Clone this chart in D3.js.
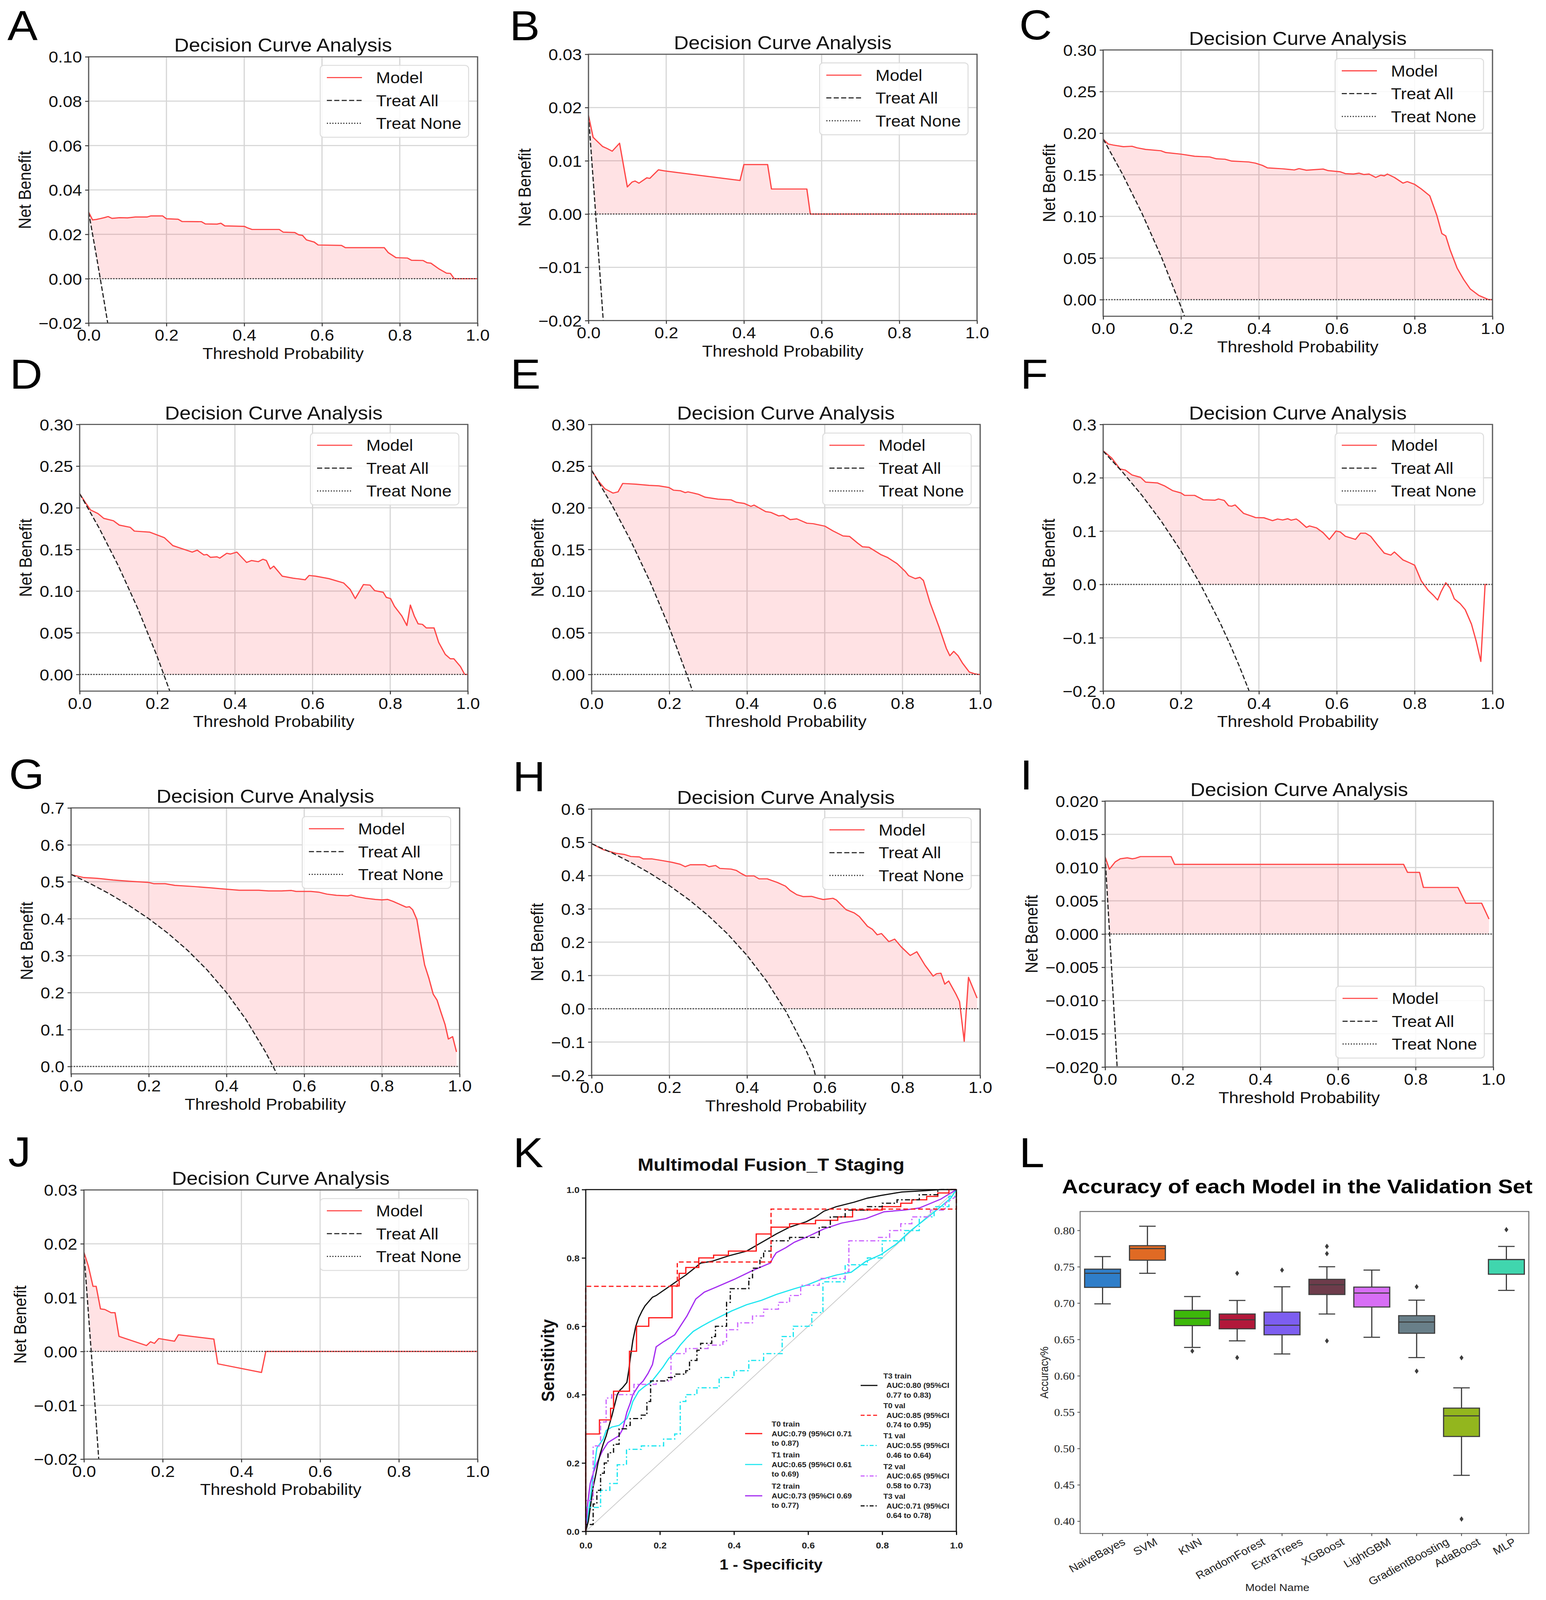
<!DOCTYPE html>
<html><head><meta charset="utf-8">
<script src="https://cdn.jsdelivr.net/npm/d3@7"></script>
<style>html,body{margin:0;padding:0;background:#fff;overflow:hidden;width:100%;height:100%}svg{display:block}</style>
</head><body>
<svg id="c" viewBox="0 0 3959 4452" preserveAspectRatio="none" style="width:100vw;height:100vh"></svg>
<script>
// ---------------- DATA ----------------
const dcaXTicks = [0, 0.2, 0.4, 0.6, 0.8, 1.0];
const treatNone = [[0, 0], [1, 0]];

const yticksA = [-0.02, 0, 0.02, 0.04, 0.06, 0.08, 0.10];
const yticksB = [-0.02, -0.01, 0, 0.01, 0.02, 0.03];
const yticksC = [0, 0.05, 0.10, 0.15, 0.20, 0.25, 0.30];
const yticksF = [-0.2, -0.1, 0, 0.1, 0.2, 0.3];
const yticksG = [0, 0.1, 0.2, 0.3, 0.4, 0.5, 0.6, 0.7];
const yticksH = [-0.2, -0.1, 0, 0.1, 0.2, 0.3, 0.4, 0.5, 0.6];
const yticksI = [-0.020, -0.015, -0.010, -0.005, 0, 0.005, 0.010, 0.015, 0.020];
const yticksJ = [-0.02, -0.01, 0, 0.01, 0.02, 0.03];

const modelA = [[0,0.030],[0.01,0.0265],[0.02,0.0267],[0.04,0.0275],[0.05,0.0280],[0.06,0.0272],[0.08,0.0275],[0.1,0.0274],[0.12,0.0278],[0.15,0.0278],[0.16,0.0283],[0.19,0.0283],[0.2,0.0270],[0.23,0.0268],[0.24,0.0258],[0.29,0.0257],[0.3,0.0247],[0.33,0.0246],[0.34,0.0250],[0.35,0.0238],[0.4,0.0236],[0.41,0.0228],[0.42,0.0222],[0.49,0.0222],[0.5,0.0210],[0.53,0.0208],[0.54,0.0198],[0.55,0.0195],[0.56,0.0175],[0.58,0.0165],[0.59,0.0152],[0.65,0.0150],[0.66,0.0140],[0.76,0.0140],[0.77,0.0118],[0.79,0.0095],[0.82,0.0093],[0.83,0.0083],[0.86,0.0082],[0.87,0.0072],[0.88,0.0070],[0.9,0.0045],[0.92,0.0025],[0.93,0.0024],[0.94,0.0],[1.0,0.0]];
const allA = [[0,0.030],[0.02,0.0102],[0.04,-0.0104],[0.05,-0.021]];

const modelB = [[0,0.0185],[0.012,0.0144],[0.036,0.0127],[0.048,0.0123],[0.061,0.0118],[0.08,0.0133],[0.1,0.0051],[0.112,0.0060],[0.12,0.0062],[0.13,0.0058],[0.15,0.0068],[0.158,0.0067],[0.18,0.0083],[0.196,0.0081],[0.39,0.0063],[0.40,0.0093],[0.461,0.0093],[0.471,0.0047],[0.562,0.0047],[0.571,0],[1,0]];
const allB = [[0,0.0185],[0.02,-0.0015],[0.038,-0.0200]];

const modelC = [[0,0.1927],[0.013,0.187],[0.026,0.1857],[0.052,0.1838],[0.074,0.1843],[0.087,0.1824],[0.109,0.1805],[0.148,0.1789],[0.161,0.1767],[0.2,0.1748],[0.235,0.1723],[0.274,0.1714],[0.291,0.1692],[0.313,0.1687],[0.33,0.1665],[0.374,0.1654],[0.391,0.164],[0.409,0.1613],[0.422,0.1583],[0.461,0.1572],[0.491,0.1558],[0.503,0.1574],[0.522,0.1555],[0.565,0.1569],[0.578,0.155],[0.609,0.1536],[0.622,0.1514],[0.643,0.1509],[0.657,0.152],[0.67,0.1503],[0.683,0.1509],[0.7,0.1468],[0.713,0.1495],[0.722,0.1487],[0.73,0.1509],[0.748,0.1468],[0.77,0.14],[0.781,0.1418],[0.8,0.1385],[0.817,0.133],[0.839,0.1247],[0.857,0.1013],[0.87,0.0793],[0.88,0.0765],[0.891,0.06],[0.909,0.038],[0.926,0.0242],[0.943,0.0127],[0.965,0.005],[0.99,0],[1,0]];
const allC = [[0,0.193],[0.05,0.1505],[0.1,0.1033],[0.15,0.0506],[0.2,-0.0088],[0.21,-0.0215]];

const modelD = [[0,0.2168],[0.015,0.2061],[0.028,0.1974],[0.047,0.1931],[0.062,0.1873],[0.087,0.1844],[0.102,0.1792],[0.13,0.1766],[0.141,0.172],[0.18,0.1708],[0.202,0.167],[0.218,0.1642],[0.24,0.1546],[0.257,0.152],[0.29,0.1468],[0.303,0.1491],[0.32,0.1434],[0.328,0.1439],[0.337,0.1405],[0.354,0.1411],[0.361,0.1396],[0.379,0.1454],[0.388,0.1445],[0.405,0.1468],[0.43,0.1344],[0.443,0.1367],[0.46,0.1353],[0.472,0.1382],[0.481,0.1367],[0.491,0.1266],[0.5,0.13],[0.522,0.1179],[0.549,0.1156],[0.581,0.1136],[0.591,0.1188],[0.608,0.1179],[0.642,0.115],[0.68,0.1098],[0.697,0.102],[0.71,0.091],[0.731,0.1078],[0.748,0.1072],[0.76,0.1006],[0.782,0.0986],[0.79,0.0925],[0.801,0.091],[0.811,0.0818],[0.83,0.0702],[0.843,0.0587],[0.852,0.0832],[0.862,0.0702],[0.872,0.0607],[0.883,0.0601],[0.893,0.0558],[0.913,0.0558],[0.925,0.0384],[0.942,0.024],[0.955,0.0188],[0.964,0.0188],[0.981,0.0095],[0.992,0],[1,0]];
const allD = [[0,0.217],[0.05,0.1758],[0.1,0.130],[0.15,0.0788],[0.2,0.0212],[0.235,-0.0235]];

const modelE = [[0,0.245],[0.017,0.2324],[0.034,0.2228],[0.055,0.2176],[0.068,0.2191],[0.08,0.2292],[0.114,0.2283],[0.148,0.2269],[0.173,0.2263],[0.199,0.2243],[0.211,0.2211],[0.228,0.2205],[0.241,0.2182],[0.248,0.2191],[0.275,0.2162],[0.292,0.2127],[0.325,0.2104],[0.359,0.2095],[0.372,0.2066],[0.393,0.2052],[0.41,0.2017],[0.418,0.2032],[0.448,0.1954],[0.461,0.1945],[0.482,0.1902],[0.493,0.1908],[0.511,0.1858],[0.528,0.1867],[0.554,0.1815],[0.57,0.1809],[0.6,0.178],[0.621,0.1723],[0.647,0.1662],[0.664,0.1656],[0.685,0.1575],[0.697,0.1532],[0.714,0.1526],[0.744,0.1439],[0.761,0.1405],[0.786,0.133],[0.807,0.1237],[0.816,0.1185],[0.833,0.115],[0.845,0.1165],[0.854,0.1127],[0.871,0.0861],[0.894,0.0572],[0.913,0.0312],[0.922,0.0225],[0.932,0.0277],[0.943,0.0225],[0.955,0.0133],[0.972,0.0029],[0.985,0.0009],[0.995,0],[1,0]];
const allE = [[0,0.245],[0.05,0.2053],[0.1,0.1611],[0.15,0.1118],[0.2,0.0562],[0.25,-0.0067],[0.263,-0.0245]];

const modelF = [[0,0.2505],[0.022,0.237],[0.043,0.2166],[0.057,0.2144],[0.074,0.2053],[0.096,0.2008],[0.109,0.1918],[0.139,0.1904],[0.157,0.185],[0.178,0.176],[0.2,0.1715],[0.209,0.167],[0.235,0.167],[0.257,0.1588],[0.287,0.1579],[0.296,0.1602],[0.311,0.1575],[0.322,0.1476],[0.33,0.1467],[0.339,0.149],[0.361,0.1331],[0.383,0.1277],[0.391,0.1254],[0.413,0.125],[0.435,0.1196],[0.448,0.1227],[0.461,0.1209],[0.474,0.1232],[0.483,0.1205],[0.496,0.1227],[0.504,0.1187],[0.522,0.107],[0.53,0.1097],[0.548,0.106],[0.565,0.097],[0.581,0.0844],[0.598,0.1002],[0.609,0.0984],[0.622,0.0903],[0.648,0.0844],[0.661,0.0961],[0.674,0.0961],[0.687,0.0903],[0.704,0.0745],[0.722,0.0587],[0.739,0.055],[0.748,0.0609],[0.77,0.046],[0.787,0.0406],[0.8,0.0361],[0.817,0.0068],[0.835,-0.0113],[0.848,-0.0203],[0.859,-0.0293],[0.868,-0.0135],[0.88,0.0032],[0.891,-0.0068],[0.902,-0.0271],[0.917,-0.0361],[0.93,-0.0474],[0.946,-0.0745],[0.958,-0.106],[0.97,-0.1444],[0.981,0],[0.987,0]];
const allF = [[0,0.25],[0.05,0.2105],[0.1,0.1667],[0.15,0.1176],[0.2,0.0625],[0.25,0],[0.3,-0.0714],[0.325,-0.111],[0.35,-0.1538],[0.375,-0.2]];

const modelG = [[0,0.5192],[0.033,0.5114],[0.067,0.5094],[0.108,0.5048],[0.15,0.5015],[0.2,0.4982],[0.2125,0.4949],[0.242,0.4949],[0.267,0.4903],[0.317,0.487],[0.358,0.4837],[0.392,0.4805],[0.433,0.4772],[0.483,0.4772],[0.508,0.4752],[0.542,0.4752],[0.567,0.4765],[0.579,0.4739],[0.617,0.4739],[0.6375,0.4719],[0.658,0.4667],[0.683,0.4634],[0.7125,0.4621],[0.721,0.464],[0.733,0.4601],[0.758,0.4555],[0.783,0.4522],[0.8,0.4509],[0.815,0.4522],[0.829,0.4469],[0.85,0.4371],[0.8625,0.4312],[0.871,0.4325],[0.879,0.4246],[0.89,0.3977],[0.9,0.3339],[0.91,0.2747],[0.921,0.2386],[0.932,0.1959],[0.942,0.1794],[0.952,0.1466],[0.9625,0.1137],[0.971,0.0743],[0.982,0.0808],[0.992,0.0394]];
const allG = [[0,0.52],[0.05,0.4947],[0.1,0.4667],[0.15,0.4353],[0.2,0.40],[0.25,0.36],[0.3,0.3143],[0.35,0.2615],[0.4,0.20],[0.45,0.1273],[0.5,0.04],[0.52,0.0],[0.53,-0.0213]];

const modelH = [[0,0.496],[0.03,0.4778],[0.063,0.4668],[0.085,0.4632],[0.101,0.4573],[0.123,0.4559],[0.133,0.45],[0.156,0.45],[0.182,0.4449],[0.207,0.4398],[0.228,0.434],[0.241,0.4267],[0.254,0.4325],[0.292,0.4325],[0.302,0.4267],[0.319,0.4303],[0.33,0.4215],[0.359,0.4194],[0.372,0.4157],[0.385,0.4062],[0.397,0.3989],[0.418,0.3989],[0.431,0.3901],[0.452,0.3901],[0.478,0.3792],[0.499,0.3682],[0.511,0.3551],[0.528,0.3426],[0.545,0.3368],[0.566,0.3375],[0.583,0.3317],[0.596,0.328],[0.611,0.3302],[0.621,0.3317],[0.63,0.3266],[0.655,0.2974],[0.676,0.2878],[0.689,0.2769],[0.71,0.2477],[0.723,0.2382],[0.735,0.2221],[0.746,0.2258],[0.765,0.2016],[0.78,0.209],[0.797,0.1856],[0.82,0.16],[0.837,0.171],[0.858,0.1308],[0.879,0.0979],[0.888,0.1052],[0.899,0.1067],[0.909,0.0738],[0.919,0.0833],[0.938,0.0431],[0.947,0.0212],[0.959,-0.0979],[0.97,0.0942],[0.992,0.0321]];
const allH = [[0,0.496],[0.05,0.4695],[0.1,0.44],[0.15,0.4071],[0.2,0.37],[0.25,0.328],[0.3,0.28],[0.35,0.2246],[0.4,0.16],[0.45,0.0836],[0.5,-0.008],[0.55,-0.12],[0.57,-0.172],[0.58,-0.22]];

const modelI = [[0,0.01158],[0.011,0.00975],[0.026,0.01085],[0.039,0.01132],[0.057,0.01147],[0.07,0.01132],[0.078,0.0114],[0.091,0.01165],[0.17,0.01165],[0.179,0.01048],[0.769,0.01048],[0.779,0.00928],[0.81,0.00928],[0.82,0.00701],[0.909,0.00701],[0.929,0.00464],[0.97,0.00464],[0.989,0.00226]];
const allI = [[0,0.0116],[0.01,0.0016],[0.02,-0.0086],[0.032,-0.0211]];

const modelJ = [[0,0.0184],[0.011,0.0159],[0.023,0.0121],[0.031,0.0121],[0.042,0.0079],[0.053,0.0078],[0.069,0.0072],[0.079,0.0072],[0.089,0.0028],[0.159,0.0011],[0.169,0.0018],[0.179,0.0015],[0.19,0.0024],[0.23,0.0019],[0.24,0.0031],[0.33,0.0023],[0.34,-0.0023],[0.451,-0.0039],[0.462,0],[1,0]];
const allJ = [[0,0.0184],[0.02,-0.0016],[0.038,-0.0205]];

const dcaLegendLabels = ['Model', 'Treat All', 'Treat None'];

// ROC (panel K)
const rocTicks = [0, 0.2, 0.4, 0.6, 0.8, 1.0];
const rocT0train = [[0,0],[0,0.13],[0,0.285],[0.037,0.285],[0.037,0.326],[0.067,0.326],[0.067,0.36],[0.075,0.36],[0.075,0.41],[0.118,0.41],[0.118,0.527],[0.137,0.527],[0.137,0.60],[0.17,0.60],[0.17,0.625],[0.233,0.625],[0.233,0.718],[0.252,0.718],[0.252,0.755],[0.27,0.755],[0.27,0.772],[0.305,0.772],[0.305,0.80],[0.345,0.80],[0.345,0.808],[0.385,0.808],[0.385,0.82],[0.46,0.82],[0.46,0.87],[0.5,0.87],[0.5,0.89],[0.55,0.89],[0.55,0.90],[0.62,0.90],[0.62,0.91],[0.68,0.91],[0.68,0.92],[0.72,0.92],[0.72,0.94],[0.8,0.94],[0.8,0.95],[0.85,0.95],[0.85,0.96],[0.88,0.96],[0.88,0.97],[0.92,0.97],[0.92,0.98],[0.95,0.98],[0.95,0.99],[0.98,0.99],[0.98,1.0],[1,1]];
const rocT1train = [[0,0],[0.008,0.06],[0.015,0.12],[0.022,0.18],[0.03,0.244],[0.047,0.27],[0.055,0.295],[0.07,0.305],[0.09,0.31],[0.111,0.33],[0.12,0.355],[0.127,0.38],[0.143,0.41],[0.16,0.425],[0.176,0.436],[0.19,0.455],[0.208,0.48],[0.224,0.506],[0.24,0.523],[0.255,0.545],[0.273,0.567],[0.29,0.585],[0.313,0.60],[0.333,0.612],[0.353,0.623],[0.394,0.645],[0.434,0.663],[0.474,0.676],[0.514,0.693],[0.563,0.71],[0.595,0.72],[0.635,0.737],[0.676,0.75],[0.716,0.758],[0.756,0.79],[0.797,0.81],[0.837,0.84],[0.877,0.88],[0.918,0.915],[0.958,0.95],[0.985,0.975],[1,1]];
const rocT2train = [[0,0],[0.005,0.08],[0.012,0.14],[0.02,0.17],[0.03,0.2],[0.045,0.235],[0.06,0.26],[0.075,0.27],[0.09,0.28],[0.1,0.3],[0.111,0.349],[0.12,0.375],[0.127,0.40],[0.143,0.427],[0.155,0.44],[0.168,0.462],[0.18,0.488],[0.19,0.54],[0.21,0.555],[0.24,0.575],[0.255,0.6],[0.273,0.63],[0.285,0.655],[0.297,0.68],[0.32,0.7],[0.353,0.715],[0.4,0.737],[0.45,0.763],[0.498,0.785],[0.505,0.8],[0.514,0.815],[0.54,0.83],[0.563,0.846],[0.6,0.863],[0.643,0.885],[0.69,0.902],[0.756,0.915],[0.805,0.935],[0.86,0.94],[0.9,0.946],[0.958,0.972],[1,1]];
const rocT3train = [[0,0],[0.007,0.03],[0.0145,0.087],[0.02,0.13],[0.027,0.166],[0.033,0.2],[0.039,0.227],[0.047,0.255],[0.055,0.279],[0.063,0.31],[0.071,0.34],[0.078,0.37],[0.085,0.40],[0.092,0.413],[0.099,0.42],[0.111,0.436],[0.116,0.47],[0.12,0.505],[0.127,0.558],[0.135,0.60],[0.143,0.625],[0.152,0.645],[0.16,0.66],[0.168,0.67],[0.18,0.685],[0.19,0.69],[0.21,0.705],[0.23,0.72],[0.25,0.735],[0.27,0.75],[0.29,0.767],[0.31,0.785],[0.34,0.79],[0.385,0.806],[0.434,0.82],[0.466,0.84],[0.49,0.855],[0.514,0.87],[0.55,0.89],[0.595,0.906],[0.62,0.92],[0.643,0.937],[0.676,0.95],[0.724,0.963],[0.76,0.975],[0.797,0.983],[0.853,0.993],[0.918,0.997],[0.96,1.0],[1,1]];
const rocT0val = [[0,0],[0,0.717],[0.247,0.717],[0.247,0.788],[0.5,0.788],[0.5,0.943],[1,0.943],[1,1]];
const rocT1val = [[0,0],[0,0.07],[0.04,0.07],[0.04,0.12],[0.065,0.12],[0.065,0.14],[0.085,0.14],[0.085,0.195],[0.11,0.195],[0.11,0.24],[0.15,0.24],[0.15,0.25],[0.21,0.25],[0.21,0.27],[0.24,0.27],[0.24,0.285],[0.255,0.285],[0.255,0.38],[0.27,0.38],[0.27,0.40],[0.3,0.40],[0.3,0.42],[0.36,0.42],[0.36,0.45],[0.4,0.45],[0.4,0.47],[0.44,0.47],[0.44,0.50],[0.48,0.50],[0.48,0.52],[0.53,0.52],[0.53,0.57],[0.56,0.57],[0.56,0.60],[0.61,0.60],[0.61,0.64],[0.64,0.64],[0.64,0.73],[0.7,0.73],[0.7,0.78],[0.76,0.78],[0.76,0.80],[0.8,0.80],[0.8,0.85],[0.86,0.85],[0.86,0.88],[0.9,0.88],[0.9,0.92],[0.94,0.92],[0.94,0.95],[0.98,0.95],[0.98,0.98],[1,0.98],[1,1]];
const rocT2val = [[0,0],[0,0.09],[0.02,0.09],[0.02,0.25],[0.04,0.25],[0.04,0.32],[0.055,0.32],[0.055,0.39],[0.07,0.39],[0.07,0.40],[0.13,0.40],[0.13,0.43],[0.19,0.43],[0.19,0.44],[0.23,0.44],[0.23,0.52],[0.27,0.52],[0.27,0.535],[0.33,0.535],[0.33,0.545],[0.37,0.545],[0.37,0.555],[0.38,0.555],[0.38,0.59],[0.41,0.59],[0.41,0.61],[0.45,0.61],[0.45,0.63],[0.48,0.63],[0.48,0.65],[0.52,0.65],[0.52,0.67],[0.55,0.67],[0.55,0.69],[0.58,0.69],[0.58,0.72],[0.63,0.72],[0.63,0.74],[0.7,0.74],[0.7,0.76],[0.71,0.76],[0.71,0.85],[0.79,0.85],[0.79,0.86],[0.82,0.86],[0.82,0.88],[0.85,0.88],[0.85,0.9],[0.88,0.9],[0.88,0.92],[0.93,0.92],[0.93,0.94],[0.97,0.94],[0.97,0.96],[1,0.98],[1,1]];
const rocT3val = [[0,0],[0,0.02],[0.02,0.02],[0.02,0.08],[0.03,0.08],[0.03,0.12],[0.04,0.12],[0.04,0.17],[0.05,0.17],[0.05,0.20],[0.06,0.20],[0.06,0.23],[0.075,0.23],[0.075,0.255],[0.09,0.255],[0.09,0.30],[0.11,0.30],[0.11,0.31],[0.12,0.31],[0.12,0.33],[0.15,0.33],[0.15,0.34],[0.165,0.34],[0.165,0.38],[0.175,0.38],[0.175,0.44],[0.22,0.44],[0.22,0.45],[0.24,0.45],[0.24,0.46],[0.27,0.46],[0.27,0.47],[0.28,0.47],[0.28,0.50],[0.30,0.50],[0.30,0.53],[0.31,0.53],[0.31,0.55],[0.34,0.55],[0.34,0.57],[0.35,0.57],[0.35,0.60],[0.38,0.60],[0.38,0.67],[0.39,0.67],[0.39,0.71],[0.44,0.71],[0.44,0.74],[0.45,0.74],[0.45,0.77],[0.47,0.77],[0.47,0.80],[0.48,0.80],[0.48,0.82],[0.5,0.82],[0.5,0.85],[0.55,0.85],[0.55,0.86],[0.63,0.86],[0.63,0.89],[0.66,0.89],[0.66,0.92],[0.7,0.92],[0.7,0.94],[0.76,0.94],[0.76,0.95],[0.8,0.95],[0.8,0.96],[0.84,0.96],[0.84,0.97],[0.9,0.97],[0.9,0.985],[0.95,0.985],[0.95,1.0],[1,1]];
const rocNames = ['T0 train', 'T1 train', 'T2 train', 'T3 train', 'T0 val', 'T1 val', 'T2 val', 'T3 val'];
const rocAUC1 = ['AUC:0.79 (95%CI 0.71', 'AUC:0.65 (95%CI 0.61', 'AUC:0.73 (95%CI 0.69', 'AUC:0.80 (95%CI', 'AUC:0.85 (95%CI', 'AUC:0.55 (95%CI', 'AUC:0.65 (95%CI', 'AUC:0.71 (95%CI'];
const rocAUC2 = ['to 0.87)', 'to 0.69)', 'to 0.77)', '0.77 to 0.83)', '0.74 to 0.95)', '0.46 to 0.64)', '0.58 to 0.73)', '0.64 to 0.78)'];

// Boxplot (panel L)
const models = ['NaiveBayes', 'SVM', 'KNN', 'RandomForest', 'ExtraTrees', 'XGBoost', 'LightGBM', 'GradientBoosting', 'AdaBoost', 'MLP'];
const boxLow  = [0.699, 0.741, 0.639, 0.648, 0.630, 0.685, 0.653, 0.625, 0.463, 0.7175];
const boxQ1   = [0.7216, 0.759, 0.669, 0.6646, 0.6564, 0.7118, 0.6946, 0.6585, 0.5165, 0.7397];
const boxMed  = [0.741, 0.775, 0.679, 0.677, 0.6695, 0.7253, 0.7138, 0.674, 0.5448, 0.7598];
const boxQ3   = [0.7467, 0.779, 0.690, 0.685, 0.6876, 0.7327, 0.722, 0.6827, 0.5555, 0.760];
const boxHigh = [0.764, 0.8057, 0.709, 0.7036, 0.7225, 0.750, 0.7454, 0.704, 0.5834, 0.778];
const boxOut  = [[], [], [0.634], [0.741, 0.625], [0.7454], [0.778, 0.768, 0.648], [], [0.7225, 0.6064], [0.6248, 0.4029], [0.801]];
const boxTicks = [0.40, 0.45, 0.50, 0.55, 0.60, 0.65, 0.70, 0.75, 0.80];

// ---------------- DRAWING ----------------
const SANS = "'Liberation Sans', Arial, Helvetica, sans-serif";
const SERIF = "'Liberation Serif', 'Times New Roman', serif";
const svg = d3.select('#c');
svg.append('rect').attr('width', 3959).attr('height', 4452).attr('fill', '#fff');

function interp(pts, xv) {
  if (xv < pts[0][0] - 1e-9 || xv > pts[pts.length - 1][0] + 1e-9) return null;
  for (let i = 1; i < pts.length; i++) {
    if (xv <= pts[i][0]) {
      const [xa, ya] = pts[i - 1], [xb, yb] = pts[i];
      if (xb === xa) return yb;
      return ya + (yb - ya) * (xv - xa) / (xb - xa);
    }
  }
  return pts[pts.length - 1][1];
}

function panelLetter(t, px, py) {
  svg.append('text').attr('x', px).attr('y', py).text(t)
    .attr('font-family', SANS).attr('font-size', 116).attr('fill', '#000');
}

const panels = [
  {label: 'A', rect: [227, 158, 1223, 899], ydom: [-0.02, 0.10], yticks: yticksA, fmt: '.2f', model: modelA, all: allA, legend: 'top', lp: [19, 112]},
  {label: 'B', rect: [1507, 151, 2502, 892], ydom: [-0.02, 0.03], yticks: yticksB, fmt: '.2f', model: modelB, all: allB, legend: 'top', lp: [1305, 112]},
  {label: 'C', rect: [2825, 139, 3822, 880], ydom: [-0.02, 0.30], yticks: yticksC, fmt: '.2f', model: modelC, all: allC, legend: 'top', lp: [2610, 110]},
  {label: 'D', rect: [204, 1181, 1198, 1923], ydom: [-0.02, 0.30], yticks: yticksC, fmt: '.2f', model: modelD, all: allD, legend: 'top', lp: [25, 1082]},
  {label: 'E', rect: [1515, 1181, 2510, 1923], ydom: [-0.02, 0.30], yticks: yticksC, fmt: '.2f', model: modelE, all: allE, legend: 'top', lp: [1307, 1082]},
  {label: 'F', rect: [2825, 1181, 3822, 1923], ydom: [-0.2, 0.3], yticks: yticksF, fmt: '.1f', model: modelF, all: allF, legend: 'top', lp: [2613, 1082]},
  {label: 'G', rect: [182, 2248, 1177, 2988], ydom: [-0.02, 0.7], yticks: yticksG, fmt: '.1f', model: modelG, all: allG, legend: 'top', lp: [23, 2195]},
  {label: 'H', rect: [1515, 2251, 2510, 2992], ydom: [-0.2, 0.6], yticks: yticksH, fmt: '.1f', model: modelH, all: allH, legend: 'top', lp: [1313, 2201]},
  {label: 'I', rect: [2830, 2229, 3824, 2969], ydom: [-0.02, 0.02], yticks: yticksI, fmt: '.3f', model: modelI, all: allI, legend: 'bottom', lp: [2612, 2197]},
  {label: 'J', rect: [215, 3311, 1223, 4060], ydom: [-0.02, 0.03], yticks: yticksJ, fmt: '.2f', model: modelJ, all: allJ, legend: 'top', lp: [21, 3245]},
];

function drawDCA(c) {
  const [X0, Y0, X1, Y1] = c.rect;
  const x = d3.scaleLinear([0, 1], [X0, X1]);
  const y = d3.scaleLinear(c.ydom, [Y1, Y0]);
  const g = svg.append('g');
  const cid = 'clip' + c.label;
  g.append('clipPath').attr('id', cid).append('rect')
    .attr('x', X0).attr('y', Y0).attr('width', X1 - X0).attr('height', Y1 - Y0);

  // grid
  g.append('g').selectAll('line').data(dcaXTicks).join('line')
    .attr('x1', d => x(d)).attr('x2', d => x(d)).attr('y1', Y0).attr('y2', Y1)
    .attr('stroke', '#d6d6d6').attr('stroke-width', 3);
  g.append('g').selectAll('line').data(c.yticks).join('line')
    .attr('x1', X0).attr('x2', X1).attr('y1', d => y(d)).attr('y2', d => y(d))
    .attr('stroke', '#d6d6d6').attr('stroke-width', 3);

  // fill between model and max(treat all, 0)
  const lastX = c.model[c.model.length - 1][0];
  let xs = c.model.map(d => d[0]).concat(c.all.map(d => d[0]));
  for (let v = 0; v <= lastX; v += 0.001) xs.push(v);
  xs = Array.from(new Set(xs.map(v => +v.toFixed(5)))).filter(v => v <= lastX).sort((a, b) => a - b);
  const fillPts = xs.map(xv => {
    const m = interp(c.model, xv);
    const a = interp(c.all, xv);
    const lo = a === null ? 0 : Math.max(a, 0);
    const hi = Math.max(m === null ? lo : m, lo);
    return [xv, lo, hi];
  });
  const cg = g.append('g').attr('clip-path', `url(#${cid})`);
  cg.append('path').datum(fillPts)
    .attr('d', d3.area().x(d => x(d[0])).y0(d => y(d[1])).y1(d => y(d[2])))
    .attr('fill', '#ff1f2f').attr('fill-opacity', 0.13);

  const line = d3.line().x(d => x(d[0])).y(d => y(d[1]));
  cg.append('path').datum(c.model).attr('d', line)
    .attr('fill', 'none').attr('stroke', '#ff4646').attr('stroke-width', 3.2).attr('stroke-linejoin', 'round');
  cg.append('path').datum(c.all).attr('d', line)
    .attr('fill', 'none').attr('stroke', '#222').attr('stroke-width', 3).attr('stroke-dasharray', '13,6');
  cg.append('path').datum(treatNone).attr('d', line)
    .attr('fill', 'none').attr('stroke', '#333').attr('stroke-width', 3).attr('stroke-dasharray', '3,4');

  // spines
  g.append('rect').attr('x', X0).attr('y', Y0).attr('width', X1 - X0).attr('height', Y1 - Y0)
    .attr('fill', 'none').attr('stroke', '#5a5a5a').attr('stroke-width', 3);

  // axes
  const ax = g.append('g').attr('transform', `translate(0,${Y1})`)
    .call(d3.axisBottom(x).tickValues(dcaXTicks).tickFormat(d3.format('.1f')).tickSize(9).tickPadding(9));
  const ay = g.append('g').attr('transform', `translate(${X0},0)`)
    .call(d3.axisLeft(y).tickValues(c.yticks).tickFormat(d3.format(c.fmt)).tickSize(9).tickPadding(8));
  [ax, ay].forEach(a => {
    a.select('.domain').remove();
    a.selectAll('line').attr('stroke', '#333').attr('stroke-width', 2.5);
    a.selectAll('text').attr('font-family', SANS).attr('font-size', 44).attr('fill', '#111');
  });
  ay.selectAll('text').attr('dy', '0.36em');

  // title and labels
  g.append('text').attr('x', (X0 + X1) / 2).attr('y', Y0 - 14).attr('text-anchor', 'middle')
    .attr('font-family', SANS).attr('font-size', 52).attr('fill', '#111').text('Decision Curve Analysis');
  g.append('text').attr('x', (X0 + X1) / 2).attr('y', Y1 + 100).attr('text-anchor', 'middle')
    .attr('font-family', SANS).attr('font-size', 44).attr('fill', '#111').text('Threshold Probability');
  let minW = 0;
  ay.selectAll('text').each(function () { minW = Math.max(minW, this.getComputedTextLength()); });
  const lx = X0 - 17 - minW - 36;
  g.append('text').attr('transform', `translate(${lx},${(Y0 + Y1) / 2}) rotate(-90)`).attr('dy', '0.36em')
    .attr('text-anchor', 'middle').attr('font-family', SANS).attr('font-size', 44).attr('fill', '#111').text('Net Benefit');

  // legend
  const LW = 380, LH = 200;
  const bx = X1 - 23 - LW;
  const by = c.legend === 'top' ? Y0 + 24 : Y1 - 25 - LH;
  const lg = g.append('g');
  lg.append('rect').attr('x', bx).attr('y', by).attr('width', LW).attr('height', LH).attr('rx', 9)
    .attr('fill', '#fff').attr('fill-opacity', 0.85).attr('stroke', '#dcdcdc').attr('stroke-width', 2.5);
  const styles = [
    {stroke: '#ff4646', dash: null},
    {stroke: '#222', dash: '13,6'},
    {stroke: '#333', dash: '3,4'}
  ];
  dcaLegendLabels.forEach((t, i) => {
    const ry = by + 34 + i * 63.5;
    lg.append('line').attr('x1', bx + 17).attr('x2', bx + 107).attr('y1', ry).attr('y2', ry)
      .attr('stroke', styles[i].stroke).attr('stroke-width', 3).attr('stroke-dasharray', styles[i].dash);
    lg.append('text').attr('x', bx + 143).attr('y', ry).attr('dy', '0.36em')
      .attr('font-family', SANS).attr('font-size', 44).attr('fill', '#111').text(t);
  });

  panelLetter(c.label, c.lp[0], c.lp[1]);
}
panels.forEach(drawDCA);

// ---------------- Panel K: ROC ----------------
(function () {
  const X0 = 1500, Y0 = 3310, X1 = 2449, Y1 = 4261;
  const x = d3.scaleLinear([0, 1], [X0, X1]);
  const y = d3.scaleLinear([0, 1], [Y1, Y0]);
  const g = svg.append('g');
  g.append('clipPath').attr('id', 'clipK').append('rect')
    .attr('x', X0 - 3).attr('y', Y0 - 3).attr('width', X1 - X0 + 6).attr('height', Y1 - Y0 + 6);
  const line = d3.line().x(d => x(d[0])).y(d => y(d[1]));
  const cg = g.append('g').attr('clip-path', 'url(#clipK)');
  cg.append('path').datum([[0, 0], [1, 1]]).attr('d', line).attr('stroke', '#c4c4c4').attr('stroke-width', 1.8).attr('fill', 'none');

  const series = [
    {data: rocT1train, color: '#1de6f0', dash: null},
    {data: rocT2train, color: '#a42cf0', dash: null},
    {data: rocT3train, color: '#111', dash: null},
    {data: rocT0train, color: '#ff1a1a', dash: null},
    {data: rocT1val, color: '#1de6f0', dash: '13,6,4,6'},
    {data: rocT2val, color: '#cc66ff', dash: '13,6,4,6'},
    {data: rocT3val, color: '#111', dash: '13,6,4,6'},
    {data: rocT0val, color: '#ff1a1a', dash: '12,7'},
  ];
  series.forEach(s => {
    cg.append('path').datum(s.data).attr('d', line).attr('fill', 'none')
      .attr('stroke', s.color).attr('stroke-width', 3.2).attr('stroke-dasharray', s.dash)
      .attr('stroke-linejoin', 'miter');
  });

  g.append('rect').attr('x', X0).attr('y', Y0).attr('width', X1 - X0).attr('height', Y1 - Y0)
    .attr('fill', 'none').attr('stroke', '#111').attr('stroke-width', 3);
  const ax = g.append('g').attr('transform', `translate(0,${Y1})`)
    .call(d3.axisBottom(x).tickValues(rocTicks).tickFormat(d3.format('.1f')).tickSize(10).tickPadding(20));
  const ay = g.append('g').attr('transform', `translate(${X0},0)`)
    .call(d3.axisLeft(y).tickValues(rocTicks).tickFormat(d3.format('.1f')).tickSize(10).tickPadding(6));
  [ax, ay].forEach(a => {
    a.select('.domain').remove();
    a.selectAll('line').attr('stroke', '#111').attr('stroke-width', 3);
    a.selectAll('text').attr('font-family', SANS).attr('font-weight', 'bold').attr('font-size', 24).attr('fill', '#222');
  });
  ay.selectAll('text').attr('dy', '0.36em');

  g.append('text').attr('x', (X0 + X1) / 2).attr('y', 3258).attr('text-anchor', 'middle')
    .attr('font-family', SANS).attr('font-weight', 'bold').attr('font-size', 49).attr('fill', '#111')
    .text('Multimodal Fusion_T Staging');
  g.append('text').attr('x', (X0 + X1) / 2).attr('y', 4367).attr('text-anchor', 'middle')
    .attr('font-family', SANS).attr('font-weight', 'bold').attr('font-size', 41).attr('fill', '#111')
    .text('1 - Specificity');
  g.append('text').attr('transform', `translate(1402,${(Y0 + Y1) / 2}) rotate(-90)`).attr('dy', '0.36em')
    .attr('text-anchor', 'middle').attr('font-family', SANS).attr('font-weight', 'bold').attr('font-size', 46).attr('fill', '#111')
    .text('Sensitivity');

  // legend (two columns)
  const legendStyle = [
    {color: '#ff1a1a', dash: null}, {color: '#1de6f0', dash: null}, {color: '#a42cf0', dash: null},
    {color: '#111', dash: null}, {color: '#ff1a1a', dash: '10,6'}, {color: '#1de6f0', dash: '10,5,3,5'},
    {color: '#cc66ff', dash: '10,5,3,5'}, {color: '#111', dash: '10,5,3,5'}
  ];
  const leftMid = [3989, 4075, 4162];
  const rightMid = [3855, 3938, 4022, 4107, 4190];
  rocNames.forEach((nm, i) => {
    const isLeft = i < 3;
    const mid = isLeft ? leftMid[i] : rightMid[i - 3];
    const hx0 = isLeft ? 1908 : 2204, hx1 = isLeft ? 1952 : 2247;
    const tx = isLeft ? 1976 : 2270;
    g.append('line').attr('x1', hx0).attr('x2', hx1).attr('y1', mid).attr('y2', mid)
      .attr('stroke', legendStyle[i].color).attr('stroke-width', 3.2).attr('stroke-dasharray', legendStyle[i].dash);
    [nm, rocAUC1[i], rocAUC2[i]].forEach((t, k) => {
      g.append('text').attr('x', tx - (k === 0 && !isLeft ? 8 : 0)).attr('y', mid + (k - 1) * 26.7).attr('dy', '0.36em')
        .attr('font-family', SANS).attr('font-weight', 'bold').attr('font-size', 20).attr('fill', '#222').text(t);
    });
  });
  panelLetter('K', 1314, 3248);
})();

// ---------------- Panel L: boxplot ----------------
(function () {
  const X0 = 2766, Y0 = 3371, X1 = 3915, Y1 = 4267;
  const x = d3.scaleBand(models, [X0, X1]).padding(0);
  const y = d3.scaleLinear([0.383, 0.826], [Y1, Y0]);
  const g = svg.append('g');
  const colors = ['#2f7ec9', '#e06a24', '#3db80a', '#b2183a', '#7d5ef0', '#6e3c4b', '#d76ef5', '#697f89', '#93b61e', '#40d6ae'];
  const bw = x.bandwidth() * 0.8;
  const edge = '#3d3d3d';
  models.forEach((m, i) => {
    const cx = x(m) + x.bandwidth() / 2;
    const bg = g.append('g');
    bg.append('line').attr('x1', cx).attr('x2', cx).attr('y1', y(boxHigh[i])).attr('y2', y(boxQ3[i])).attr('stroke', edge).attr('stroke-width', 3);
    bg.append('line').attr('x1', cx).attr('x2', cx).attr('y1', y(boxQ1[i])).attr('y2', y(boxLow[i])).attr('stroke', edge).attr('stroke-width', 3);
    bg.append('line').attr('x1', cx - bw * 0.23).attr('x2', cx + bw * 0.23).attr('y1', y(boxHigh[i])).attr('y2', y(boxHigh[i])).attr('stroke', edge).attr('stroke-width', 3);
    bg.append('line').attr('x1', cx - bw * 0.23).attr('x2', cx + bw * 0.23).attr('y1', y(boxLow[i])).attr('y2', y(boxLow[i])).attr('stroke', edge).attr('stroke-width', 3);
    bg.append('rect').attr('x', cx - bw / 2).attr('y', y(boxQ3[i])).attr('width', bw).attr('height', y(boxQ1[i]) - y(boxQ3[i]))
      .attr('fill', colors[i]).attr('stroke', edge).attr('stroke-width', 3);
    bg.append('line').attr('x1', cx - bw / 2).attr('x2', cx + bw / 2).attr('y1', y(boxMed[i])).attr('y2', y(boxMed[i])).attr('stroke', edge).attr('stroke-width', 3);
    bg.selectAll('path.o').data(boxOut[i]).join('path')
      .attr('d', 'M0,-7.5L5,0L0,7.5L-5,0Z').attr('transform', d => `translate(${cx},${y(d)})`).attr('fill', edge);
  });
  g.append('rect').attr('x', X0).attr('y', Y0).attr('width', X1 - X0).attr('height', Y1 - Y0)
    .attr('fill', 'none').attr('stroke', '#6a6a6a').attr('stroke-width', 2.5);
  const ay = g.append('g').attr('transform', `translate(${X0},0)`)
    .call(d3.axisLeft(y).tickValues(boxTicks).tickFormat(d3.format('.2f')).tickSize(7).tickPadding(7));
  ay.select('.domain').remove();
  ay.selectAll('line').attr('stroke', '#444').attr('stroke-width', 2);
  ay.selectAll('text').attr('font-family', SERIF).attr('font-size', 30).attr('fill', '#222').attr('dy', '0.34em');
  const ax = g.append('g').attr('transform', `translate(0,${Y1})`)
    .call(d3.axisBottom(x).tickSize(7).tickFormat(''));
  ax.select('.domain').remove();
  ax.selectAll('line').attr('stroke', '#444').attr('stroke-width', 2);
  // rotated category labels
  models.forEach(m => {
    const cx = x(m) + x.bandwidth() / 2;
    const t = g.append('text').attr('font-family', SANS).attr('font-size', 30).attr('fill', '#222')
      .attr('text-anchor', 'middle').text(m);
    const L = t.node().getComputedTextLength();
    const h = 23;
    const H = L * 0.5 + h * 0.866;
    const cy = Y1 + 10 + H / 2;
    const cxs = cx - L * 0.09;
    t.attr('transform', `translate(${cxs},${cy}) rotate(-30)`).attr('dy', '0.36em');
  });
  g.append('text').attr('x', 3271).attr('y', 4427).attr('text-anchor', 'middle')
    .attr('font-family', SANS).attr('font-size', 29).attr('fill', '#222').text('Model Name');
  g.append('text').attr('transform', `translate(2674,${(Y0 + Y1) / 2}) rotate(-90)`).attr('dy', '0.36em')
    .attr('text-anchor', 'middle').attr('font-family', SANS).attr('font-size', 29).attr('fill', '#222').text('Accuracy%');
  g.append('text').attr('x', 3322).attr('y', 3320).attr('text-anchor', 'middle')
    .attr('font-family', SANS).attr('font-weight', 'bold').attr('font-size', 54)
    .attr('fill', '#000').attr('textLength', 1205).attr('lengthAdjust', 'spacingAndGlyphs')
    .text('Accuracy of each Model in the Validation Set');
  panelLetter('L', 2610, 3248);
})();
</script>
</body></html>
